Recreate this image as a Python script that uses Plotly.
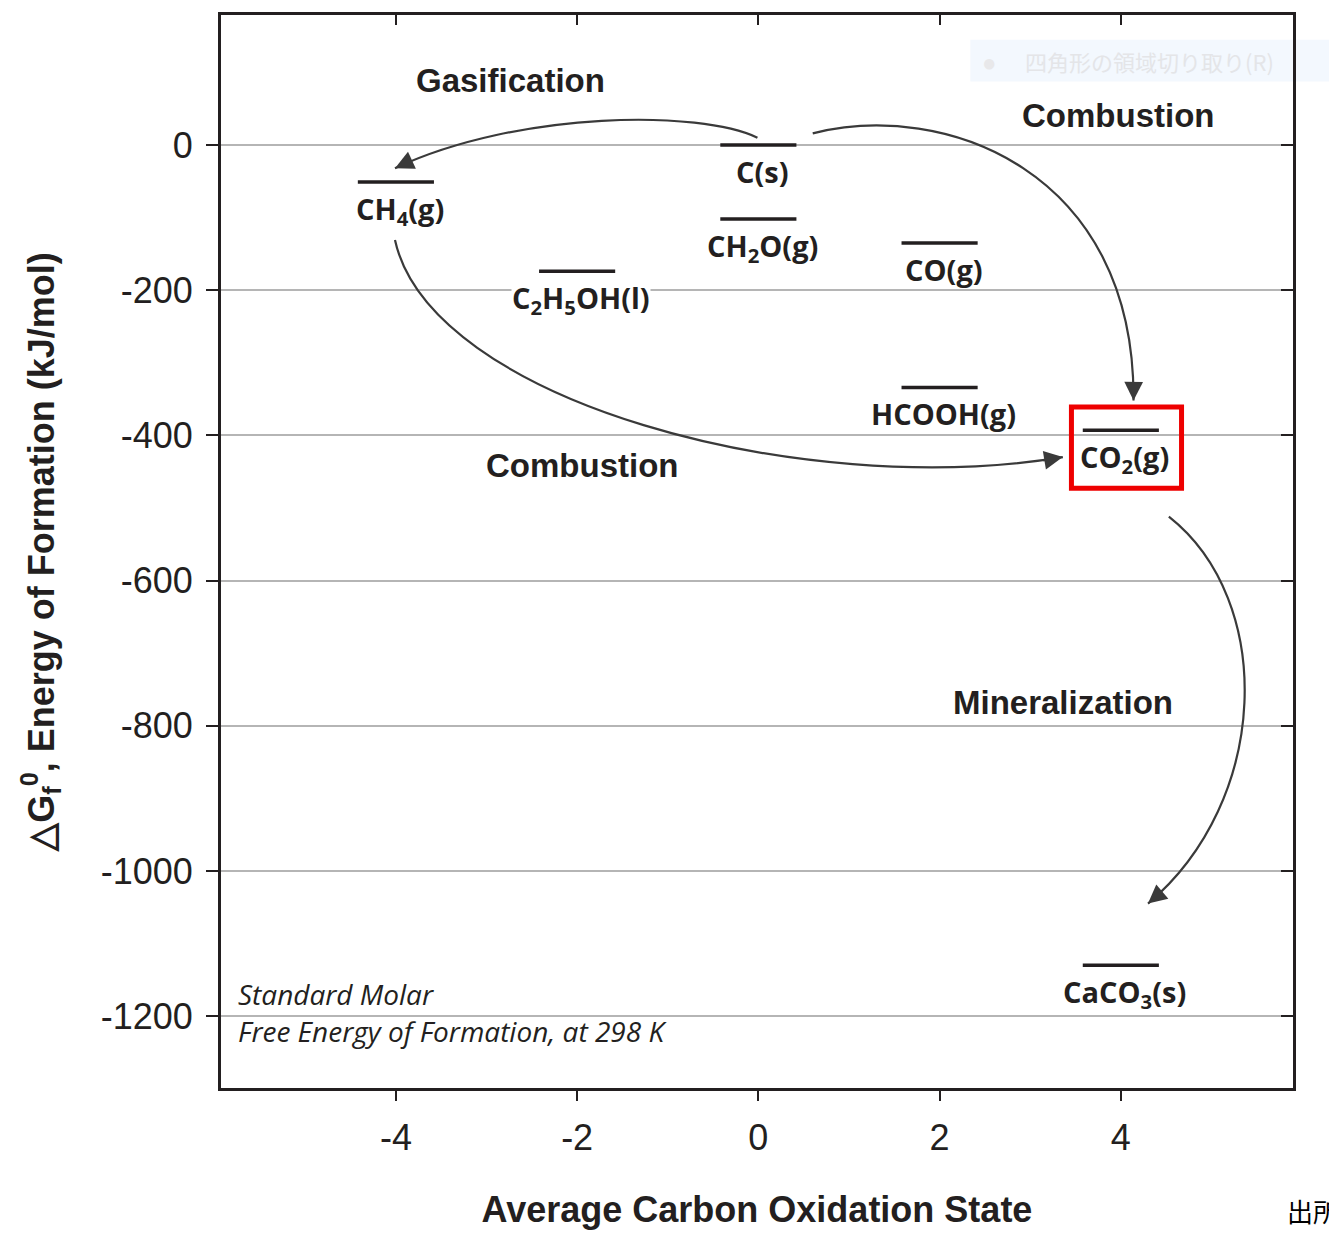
import plotly.graph_objects as go

# ---------------- data ----------------
species = ["C(s)", "CH<sub>4</sub>(g)", "CH<sub>2</sub>O(g)", "CO(g)",
           "C<sub>2</sub>H<sub>5</sub>OH(l)", "HCOOH(g)", "CO<sub>2</sub>(g)",
           "CaCO<sub>3</sub>(s)"]
ox_state = [0, -4, 0, 2, -2, 2, 4, 4]
dGf = [0, -51, -102, -135, -174, -334, -393, -1130]

x_ticks = [-4, -2, 0, 2, 4]
x_ticktext = ["-4", "-2", "0", "2", "4"]
y_ticks = [0, -200, -400, -600, -800, -1000, -1200]
y_ticktext = ["0", "-200", "-400", "-600", "-800", "-1000", "-1200"]

# Curved arrows: cubic Bezier control points (start, c1, c2, end) in data units
arrow_gasification = [(-0.01, 10), (-0.64, 48), (-2.63, 48), (-4.01, -32)]
arrow_combustion_top = [(0.60, 16), (2.05, 62), (4.16, -35), (4.14, -352)]
arrow_combustion_low = [(-4.01, -131), (-3.62, -352), (0.46, -490), (3.36, -430)]
arrow_mineralization = [(4.53, -512), (5.71, -628), (5.65, -903), (4.30, -1045)]
arrows = [arrow_gasification, arrow_combustion_top, arrow_combustion_low, arrow_mineralization]

process_labels = ["Gasification", "Combustion", "Combustion", "Mineralization"]
process_x = [-2.74, 3.97, -1.95, 3.36]
process_y = [89, 41, -441, -768]

DARK = "#231f20"
ARROW = "#3a3a3a"
LABEL_FONT = "Open Sans"

fig = go.Figure()

# level bars
half = 0.42
lx, ly = [], []
for xv, yv in zip(ox_state, dGf):
    lx += [xv - half, xv + half, None]
    ly += [yv, yv, None]
fig.add_trace(go.Scatter(x=lx, y=ly, mode="lines", line=dict(color=DARK, width=3.5),
                         hoverinfo="skip", showlegend=False))

# invisible trace for overlay axes (top / right ticks)
fig.add_trace(go.Scatter(x=[0], y=[0], xaxis="x2", yaxis="y2", mode="markers",
                         marker=dict(opacity=0), showlegend=False, hoverinfo="skip"))

# species labels
for name, xv, yv in zip(species, ox_state, dGf):
    bg = "white" if "OH(l)" in name else "rgba(0,0,0,0)"
    fig.add_annotation(x=xv, y=yv, text=name, showarrow=False, yanchor="top",
                       yshift=-6, xshift=4,
                       font=dict(family=LABEL_FONT, size=29, color=DARK, weight="bold"),
                       bgcolor=bg, borderpad=0)

# curved arrows
shapes = []
for pts in arrows:
    (x0, y0), (x1, y1), (x2, y2), (x3, y3) = pts
    path = f"M {x0},{y0} C {x1},{y1} {x2},{y2} {x3},{y3}"
    shapes.append(dict(type="path", path=path, xref="x", yref="y",
                       line=dict(color=ARROW, width=2.2), layer="above"))
    ax = x3 + 0.08 * (x2 - x3)
    ay = y3 + 0.08 * (y2 - y3)
    fig.add_annotation(x=x3, y=y3, ax=ax, ay=ay, axref="x", ayref="y",
                       xref="x", yref="y", text="", showarrow=True,
                       arrowhead=2, arrowsize=1.7, arrowwidth=2.2,
                       arrowcolor=ARROW, standoff=0)

# red highlight box around CO2
shapes.append(dict(type="rect", xref="x", yref="y", x0=3.455, x1=4.67, y0=-473, y1=-361,
                   line=dict(color="#ee0000", width=5), layer="above"))

# faint screenshot overlay (top right)
shapes.append(dict(type="rect", xref="paper", yref="paper", x0=0.699, x1=1.05,
                   y0=0.938, y1=0.977, fillcolor="#f3f8fe", line=dict(width=0),
                   layer="below"))
fig.update_layout(shapes=shapes)

for txt, xv, yv in zip(process_labels, process_x, process_y):
    fig.add_annotation(x=xv, y=yv, text=txt, showarrow=False,
                       font=dict(family="Liberation Sans", size=33, color=DARK, weight="bold"))

fig.add_annotation(x=-5.77, y=-1169, text="Standard Molar", showarrow=False, xanchor="left",
                   font=dict(family="Open Sans", size=28, color=DARK, style="italic"))
fig.add_annotation(x=-5.77, y=-1220, text="Free Energy of Formation, at 298 K", showarrow=False,
                   xanchor="left",
                   font=dict(family="Open Sans", size=28, color=DARK, style="italic"))

fig.add_annotation(xref="paper", yref="paper", x=0.717, y=0.957, xanchor="center",
                   yanchor="middle", text="●", showarrow=False,
                   font=dict(size=24, color="#e8e8ea"))
fig.add_annotation(xref="paper", yref="paper", x=0.748, y=0.957, xanchor="left",
                   yanchor="middle", text="四角形の領域切り取り(R)", showarrow=False,
                   font=dict(family="Noto Sans CJK JP", size=22, color="#e4e5e8"))
fig.add_annotation(xref="paper", yref="paper", x=0.993, y=-0.114, xanchor="left",
                   yanchor="middle", text="出所", showarrow=False,
                   font=dict(family="Noto Sans CJK JP", size=26, color="#000000"))

XR = [-5.93, 5.9]
YR = [-1299, 179]
fig.update_layout(
    width=1329, height=1225, autosize=False,
    margin=dict(l=213, r=44, t=4, b=145),
    paper_bgcolor="white", plot_bgcolor="rgba(0,0,0,0)",
    showlegend=False,
    xaxis=dict(range=XR, tickvals=x_ticks, ticktext=x_ticktext, ticks="outside",
               ticklen=10, tickwidth=2, tickcolor=DARK, showline=True, linewidth=3,
               linecolor=DARK, mirror=True, showgrid=False, zeroline=False,
               ticklabelstandoff=6,
               tickfont=dict(family="Liberation Sans", size=36, color=DARK),
               title=dict(text="<b>Average Carbon Oxidation State</b>", standoff=40,
                          font=dict(family="Liberation Sans", size=36, color=DARK))),
    yaxis=dict(range=YR, tickvals=y_ticks, ticktext=y_ticktext, ticks="outside",
               ticklen=12, tickwidth=2, tickcolor=DARK, showline=True, linewidth=3,
               linecolor=DARK, mirror=True, showgrid=True, gridcolor="#b5b5b5",
               gridwidth=2, zeroline=False, ticklabelstandoff=6,
               tickfont=dict(family="Liberation Sans", size=36, color=DARK),
               title=dict(text="<b>△G<sub>f</sub><sup>0</sup>, Energy of Formation (kJ/mol)</b>",
                          standoff=36,
                          font=dict(family="Liberation Sans", size=36, color=DARK))),
    xaxis2=dict(range=XR, overlaying="x", side="top", tickvals=x_ticks, ticks="inside",
                ticklen=10, tickwidth=2, tickcolor=DARK, showticklabels=False,
                showgrid=False, zeroline=False, showline=False),
    yaxis2=dict(range=YR, overlaying="y", side="right", tickvals=y_ticks, ticks="inside",
                ticklen=12, tickwidth=2, tickcolor=DARK, showticklabels=False,
                showgrid=False, zeroline=False, showline=False),
)

fig.write_html("out.html")
